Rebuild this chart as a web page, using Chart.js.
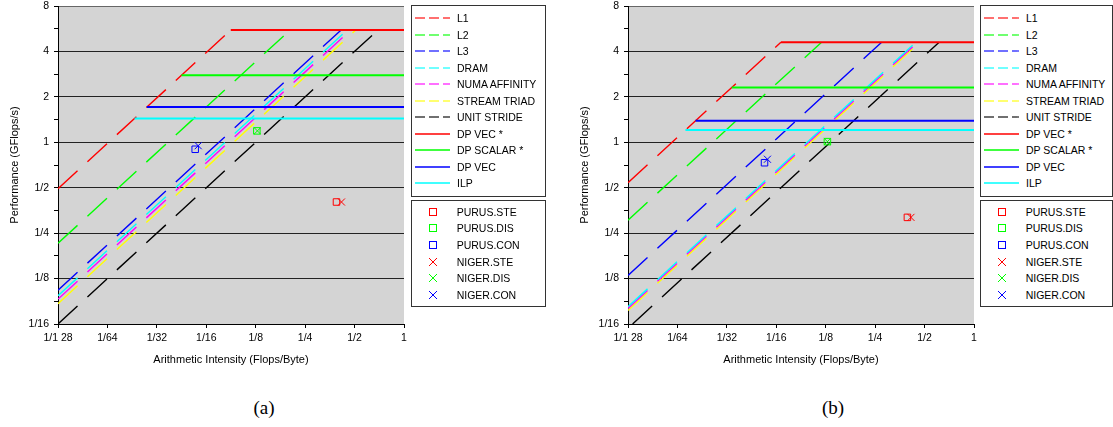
<!DOCTYPE html>
<html>
<head>
<meta charset="utf-8">
<script src="https://cdn.jsdelivr.net/npm/chart.js@4.4.1/dist/chart.umd.min.js"></script>
<style>
  body { margin: 0; width: 1113px; height: 427px; background: #fff; position: relative; overflow: hidden;
         font-family: "Liberation Sans", Arial, sans-serif; }
  .cv { position: absolute; top: 0; }
  .box { position: absolute; border: 1px solid #333; box-sizing: border-box; background: #fff; }
  .row { position: absolute; left: 0; height: 14px; width: 200px; font-size: 10.5px; line-height: 14px; color: #000; white-space: nowrap; }
  .row svg { position: absolute; top: 0; }
  .row span { position: absolute; top: 0; }
  .cap { position: absolute; top: 398px; font-family: "Liberation Serif", "Times New Roman", serif; font-size: 19px; line-height: 19px; transform: translateX(-50%); }
</style>
</head>
<body>
<div class="cv" style="left:0"><canvas id="chartA" width="410" height="375"></canvas></div>
<div class="cv" style="left:570px"><canvas id="chartB" width="410" height="375"></canvas></div>
<div class="box" id="legLinesA" style="left:411px;top:5px;width:135px;height:192px"></div>
<div class="box" id="legMarksA" style="left:411px;top:200px;width:135px;height:107px"></div>
<div class="box" id="legLinesB" style="left:980px;top:5px;width:133px;height:192px"></div>
<div class="box" id="legMarksB" style="left:980px;top:200px;width:133px;height:107px"></div>
<div class="cap" style="left:264px">(a)</div>
<div class="cap" style="left:833px">(b)</div>
<script>
// ceilings shared by both panels
const lineNames = ['L1', 'L2', 'L3', 'DRAM', 'NUMA AFFINITY', 'STREAM TRIAD', 'UNIT STRIDE'];
const lineColors = ['#ff0000', '#00ff00', '#0000ff', '#00ffff', '#ff00ff', '#ffff00', '#000000'];
const roofNames = ['DP VEC *', 'DP SCALAR *', 'DP VEC', 'ILP'];
const roofColors = ['#ff0000', '#00ff00', '#0000ff', '#00ffff'];
const markerNames = ['PURUS.STE', 'PURUS.DIS', 'PURUS.CON', 'NIGER.STE', 'NIGER.DIS', 'NIGER.CON'];
const markerColors = ['#ff0000', '#00ff00', '#0000ff', '#ff0000', '#00ff00', '#0000ff'];

const xTicks = [1/128, 1/64, 1/32, 1/16, 1/8, 1/4, 1/2, 1];
const xLabels = ['1/1 28', '1/64', '1/32', '1/16', '1/8', '1/4', '1/2', '1'];
const yTicks = [1/16, 1/8, 1/4, 1/2, 1, 2, 4, 8];
const yLabels = ['1/16', '1/8', '1/4', '1/2', '1', '2', '4', '8'];

// panel (a): bandwidths (GB/s) and peak GFlops/s
const bwA = [63, 27.4, 13.4, 12.3, 11.7, 10.9, 8.0];
const roofA = [5.55, 2.78, 1.71, 1.44];
const purusAiA = [0.388, 0.127, 0.0535];
const purusPerfA = [0.402, 1.19, 0.899];
const nigerAiA = [0.416, 0.128, 0.0558];
const nigerPerfA = [0.402, 1.19, 0.949];

// panel (b)
const bwB = [69, 39, 16.8, 10.4, 10.15, 9.85, 7.5];
const roofB = [4.6, 2.31, 1.39, 1.206];
const purusAiB = [0.393, 0.128, 0.053];
const purusPerfB = [0.318, 1.01, 0.732];
const nigerAiB = [0.413, 0.128, 0.0552];
const nigerPerfB = [0.318, 1.01, 0.772];

const plotBg = {
  id: 'plotBg',
  beforeDraw(chart) {
    const { ctx, chartArea: a } = chart;
    ctx.save();
    ctx.fillStyle = '#d4d4d4';
    ctx.fillRect(a.left, a.top, a.right - a.left, a.bottom - a.top);
    ctx.restore();
  }
};

function isOn(list, v) { return list.some(t => Math.abs(t - v) / t < 1e-6); }

function makeDatasets(bw, roof, purusAi, purusPerf, nigerAi, nigerPerf) {
  const sets = [];
  for (let i = 0; i < 3; i++) {
    sets.push({ label: markerNames[i], data: [{ x: purusAi[i], y: purusPerf[i] }], pointStyle: 'rect',
      pointRadius: 4.6, borderColor: markerColors[i], backgroundColor: 'rgba(0,0,0,0)', borderWidth: 1 });
    sets.push({ label: markerNames[i + 3], data: [{ x: nigerAi[i], y: nigerPerf[i] }], pointStyle: 'crossRot',
      pointRadius: 5, borderColor: markerColors[i + 3], borderWidth: 1 });
  }
  const peak = Math.max(...roof);
  roof.forEach((r, i) => {
    sets.push({ label: roofNames[i], data: [{ x: r / bw[0], y: r }, { x: 1, y: r }], showLine: true,
      borderColor: roofColors[i], borderWidth: 2, pointRadius: 0 });
  });
  bw.forEach((b, i) => {
    const x0 = Math.max(1/128, (1/16) / b);
    sets.push({ label: lineNames[i], data: [{ x: x0, y: b * x0 }, { x: peak / b, y: peak }], showLine: true,
      borderColor: lineColors[i], borderWidth: 1.4, borderDash: [26.5, 13.5], pointRadius: 0 });
  });
  return sets;
}

function makeChart(id, datasets) {
  const tickFont = { family: '"Liberation Sans", Arial, sans-serif', size: 10.5 };
  const titleFont = { family: '"Liberation Sans", Arial, sans-serif', size: 11 };
  return new Chart(document.getElementById(id), {
    type: 'scatter',
    data: { datasets: datasets },
    plugins: [plotBg],
    options: {
      responsive: false,
      animation: false,
      layout: { padding: { left: 0, top: 6, right: 4, bottom: 0 } },
      plugins: { legend: { display: false }, tooltip: { enabled: false } },
      scales: {
        x: {
          type: 'logarithmic', min: 1/128, max: 1,
          afterBuildTicks: s => { s.ticks = xTicks.map(v => ({ value: v })); },
          afterFit: s => { s.height = 51; s.paddingLeft = 0; s.paddingRight = 0; },
          ticks: { autoSkip: false, maxRotation: 0, padding: 4, color: '#000', font: tickFont,
            callback: v => { const i = xTicks.findIndex(t => Math.abs(t - v) / t < 1e-6); return i < 0 ? '' : xLabels[i]; } },
          grid: { drawOnChartArea: false, drawTicks: true, tickLength: 4, tickColor: '#000' },
          border: { color: '#000', width: 1 },
          title: { display: true, text: 'Arithmetic Intensity (Flops/Byte)', color: '#000', font: titleFont, padding: { top: 0, bottom: 8.4 } }
        },
        y: {
          type: 'logarithmic', min: 1/16, max: 8,
          afterBuildTicks: s => {
            const all = yTicks.slice();
            for (let i = 0; i < yTicks.length - 1; i++) all.push(Math.sqrt(yTicks[i] * yTicks[i + 1]));
            all.sort((a, b) => a - b);
            s.ticks = all.map(v => ({ value: v }));
          },
          afterFit: s => { s.width = 58; s.paddingTop = 0; s.paddingBottom = 0; },
          ticks: { autoSkip: false, padding: 5, color: '#000', font: tickFont,
            callback: v => { const i = yTicks.findIndex(t => Math.abs(t - v) / t < 1e-6); return i < 0 ? '' : yLabels[i]; } },
          grid: {
            tickLength: 4, tickColor: '#000',
            color: c => !isOn(yTicks, c.tick.value) ? 'rgba(0,0,0,0)' : (c.tick.value === 8 ? '#666' : '#222'),
            lineWidth: 1
          },
          border: { color: '#000', width: 1 },
          title: { display: true, text: 'Performance (GFlops/s)', color: '#000', font: titleFont, padding: { top: 8.4, bottom: 0 } }
        }
      }
    }
  });
}

makeChart('chartA', makeDatasets(bwA, roofA, purusAiA, purusPerfA, nigerAiA, nigerPerfA));
makeChart('chartB', makeDatasets(bwB, roofB, purusAiB, purusPerfB, nigerAiB, nigerPerfB));

// legends
function lineLegend(id) {
  const box = document.getElementById(id);
  let html = '';
  const all = lineNames.map((n, i) => ({ n, c: lineColors[i], dash: true }))
    .concat(roofNames.map((n, i) => ({ n, c: roofColors[i], dash: false })));
  all.forEach((it, i) => {
    const top = 13.3 + i * 16.5 - 1 - 7;
    const stroke = it.dash
      ? `<line x1="0" y1="7" x2="35" y2="7" stroke="${it.c}" stroke-width="1.4" stroke-opacity="0.75" stroke-dasharray="10 4"/>`
      : `<line x1="0" y1="7" x2="35" y2="7" stroke="${it.c}" stroke-width="2" stroke-opacity="0.75"/>`;
    html += `<div class="row" style="top:${top}px"><svg width="36" height="14" style="left:3px">${stroke}</svg><span style="left:45px">${it.n}</span></div>`;
  });
  box.innerHTML = html;
}
function markerLegend(id) {
  const box = document.getElementById(id);
  let html = '';
  markerNames.forEach((n, i) => {
    const top = 11.7 + i * 16.6 - 1 - 7;
    const c = markerColors[i];
    const mark = i < 3
      ? `<rect x="3.5" y="3.5" width="7" height="7" fill="none" stroke="${c}" stroke-width="1"/>`
      : `<line x1="3" y1="3" x2="11" y2="11" stroke="${c}" stroke-width="1"/><line x1="11" y1="3" x2="3" y2="11" stroke="${c}" stroke-width="1"/>`;
    html += `<div class="row" style="top:${top}px"><svg width="14" height="14" style="left:13.7px">${mark}</svg><span style="left:44.7px">${n}</span></div>`;
  });
  box.innerHTML = html;
}
lineLegend('legLinesA');
lineLegend('legLinesB');
markerLegend('legMarksA');
markerLegend('legMarksB');
</script>
</body>
</html>
